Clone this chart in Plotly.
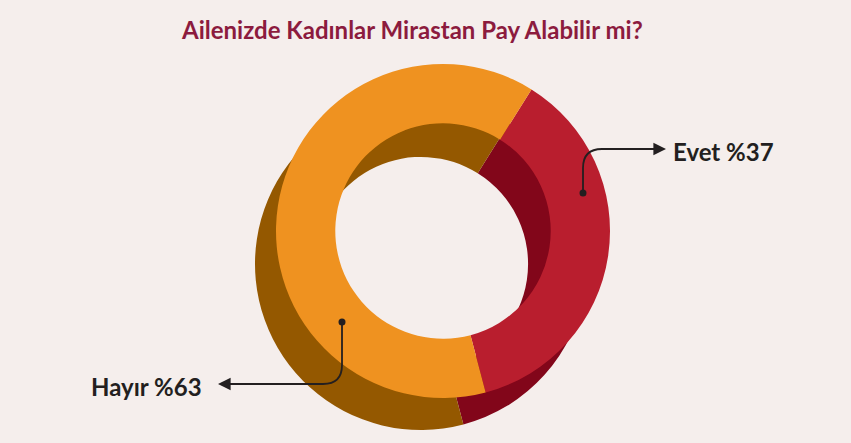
import plotly.graph_objects as go

# ---- data ----
categories = ["Evet", "Hayır"]
values = [37, 63]
title_text = "Ailenizde Kadınlar Mirastan Pay Alabilir mi?"

front_colors = ["#B91E2E", "#EF9220"]
back_colors = ["#82061A", "#945800"]
BG = "#F5EEEC"
INK = "#231F20"

W, H = 851, 443

def dom(cx, cy, r):
    return dict(x=[(cx - r) / W, (cx + r) / W],
                y=[(H - cy - r) / H, (H - cy + r) / H])

fig = go.Figure()

common = dict(labels=categories, values=values, hole=0.645, sort=False,
              direction="clockwise", rotation=32, textinfo="none",
              hoverinfo="label+percent", showlegend=False)

# extruded "depth" ring (offset down-left)
fig.add_trace(go.Pie(**common, marker=dict(colors=back_colors, line=dict(width=0)),
                     domain=dom(421, 264, 166)))
# front ring
fig.add_trace(go.Pie(**common, marker=dict(colors=front_colors, line=dict(width=0)),
                     domain=dom(443, 231, 167)))

# pixel-based invisible axes for the leader lines
fig.update_xaxes(range=[0, W], visible=False, fixedrange=True)
fig.update_yaxes(range=[H, 0], visible=False, fixedrange=True)
fig.add_trace(go.Scatter(x=[0], y=[0], mode="markers", marker=dict(opacity=0),
                         showlegend=False, hoverinfo="skip"))

# leader lines (curved) + dots
fig.add_shape(type="path", xref="x", yref="y", layer="above",
              path="M 583 193 L 583 168 Q 583 149 602 149 L 640 149",
              line=dict(color=INK, width=1.8))
fig.add_shape(type="circle", xref="x", yref="y", layer="above",
              x0=579.5, x1=586.5, y0=189.5, y1=196.5,
              fillcolor=INK, line=dict(width=0))
fig.add_shape(type="path", xref="x", yref="y", layer="above",
              path="M 342 322 L 342 365 Q 342 384 323 384 L 245 384",
              line=dict(color=INK, width=1.8))
fig.add_shape(type="circle", xref="x", yref="y", layer="above",
              x0=338.5, x1=345.5, y0=318.5, y1=325.5,
              fillcolor=INK, line=dict(width=0))

# arrow heads
fig.add_annotation(x=666, y=149, ax=638, ay=149, xref="x", yref="y",
                   axref="x", ayref="y", showarrow=True, arrowhead=2,
                   arrowsize=1.4, arrowwidth=1.8, arrowcolor=INK, text="")
fig.add_annotation(x=218, y=384, ax=247, ay=384, xref="x", yref="y",
                   axref="x", ayref="y", showarrow=True, arrowhead=2,
                   arrowsize=1.4, arrowwidth=1.8, arrowcolor=INK, text="")

# labels
fig.add_annotation(x=671, y=151, xref="x", yref="y", xanchor="left", yanchor="middle",
                   showarrow=False, text=f"<b>{categories[0]} %{values[0]}</b>",
                   font=dict(family="Lato", size=24, color=INK))
fig.add_annotation(x=204, y=386, xref="x", yref="y", xanchor="right", yanchor="middle",
                   showarrow=False, text=f"<b>{categories[1]} %{values[1]}</b>",
                   font=dict(family="Lato", size=24, color=INK))

# title
fig.add_annotation(x=412, y=29, xref="x", yref="y", xanchor="center", yanchor="middle",
                   showarrow=False, text=f"<b>{title_text}</b>",
                   font=dict(family="Lato", size=24, color="#8C1B3E"))

fig.update_layout(width=W, height=H, margin=dict(l=0, r=0, t=0, b=0),
                  paper_bgcolor=BG, plot_bgcolor=BG)

fig.write_html("out.html", config={"displayModeBar": False},
               post_script="document.body.style.margin='0';document.body.style.background='" + BG + "';")
